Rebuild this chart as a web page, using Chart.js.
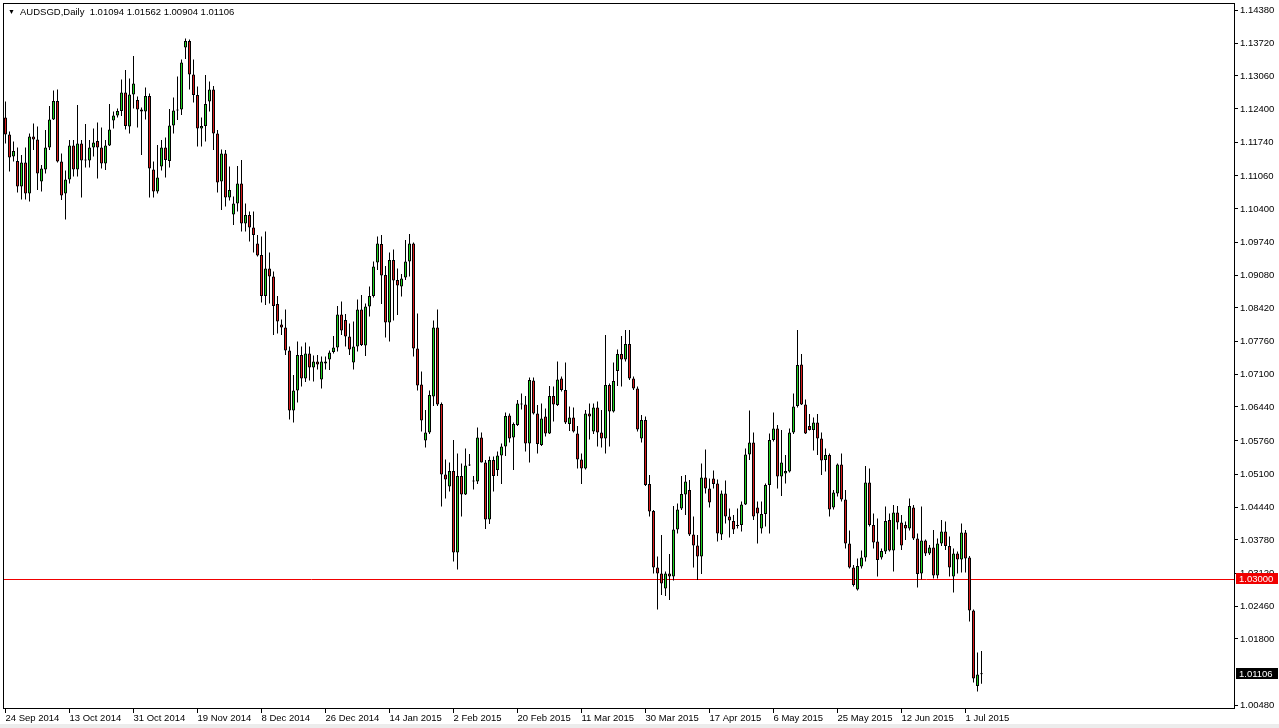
<!DOCTYPE html>
<html>
<head>
<meta charset="utf-8">
<title>AUDSGD Daily</title>
<script src="https://cdn.jsdelivr.net/npm/chart.js@4.4.1/dist/chart.umd.min.js"></script>
<style>
  html, body { margin: 0; padding: 0; background: #fff; }
  #wrap { position: relative; width: 1279px; height: 728px; overflow: hidden; }
  #title { position: absolute; left: 8px; top: 6px; color: #000; white-space: pre;
           font: 9.5px "Liberation Sans", Arial, sans-serif; }
  #title .arrow { display: inline-block; width: 12px; font-size: 7px; vertical-align: 1px; }
  #strip { position: absolute; left: 0; top: 724px; width: 1279px; height: 4px; background: #ececec; }
</style>
</head>
<body>
<div id="wrap">
  <canvas id="chart" width="1279" height="728"></canvas>
  <div id="title"></div>
  <div id="strip"></div>
</div>
<script>
// AUDSGD daily candles, 24 Sep 2014 .. 6 Jul 2015 (MT4 feed, Sunday bars included)
const symbol = "AUDSGD,Daily";

const open = [
  1.1223, 1.1189, 1.1145, 1.1136, 1.1085, 1.1133, 1.1071, 1.1185, 1.1179, 1.1095,
  1.1119, 1.1163, 1.1219, 1.1256, 1.1135, 1.1071, 1.1099, 1.1167, 1.1119, 1.1171,
  1.1139, 1.1137, 1.1163, 1.1176, 1.1163, 1.1131, 1.1167, 1.1217, 1.1227, 1.1236,
  1.1273, 1.1205, 1.1269, 1.1258, 1.1239, 1.1235, 1.1266, 1.1119, 1.1075, 1.1125,
  1.1163, 1.1136, 1.1207, 1.1237, 1.1239, 1.1363, 1.1376, 1.1309, 1.1268, 1.1201,
  1.1206, 1.1255, 1.1279, 1.1191, 1.1095, 1.1151, 1.1063, 1.1029, 1.1051, 1.1091,
  1.1011, 1.1028, 1.1003, 1.0971, 1.0948, 1.0866, 1.0921, 1.0905, 1.0850, 1.0809,
  1.0803, 1.0757, 1.0637, 1.0677, 1.0748, 1.0701, 1.0751, 1.0723, 1.0735, 1.0699,
  1.0735, 1.0739, 1.0754, 1.0763, 1.0829, 1.0818, 1.0785, 1.0733, 1.0765, 1.0839,
  1.0767, 1.0845, 1.0866, 1.0933, 1.0970, 1.0908, 1.0813, 1.0938, 1.0898, 1.0885,
  1.0903, 1.0935, 1.0971, 1.0761, 1.0689, 1.0577, 1.0593, 1.0665, 1.0803, 1.0650,
  1.0509, 1.0485, 1.0516, 1.0353, 1.0506, 1.0469, 1.0527, 1.0497, 1.0495, 1.0583,
  1.0533, 1.0419, 1.0538, 1.0518, 1.0547, 1.0565, 1.0627, 1.0583, 1.0608, 1.0651,
  1.0649, 1.0571, 1.0697, 1.0631, 1.0568, 1.0625, 1.0591, 1.0666, 1.0648, 1.0701,
  1.0678, 1.0610, 1.0623, 1.0591, 1.0539, 1.0521, 1.0631, 1.0595, 1.0643, 1.0593,
  1.0581, 1.0688, 1.0635, 1.0716, 1.0750, 1.0739, 1.0770, 1.0701, 1.0681, 1.0581,
  1.0618, 1.0490, 1.0436, 1.0323, 1.0311, 1.0281, 1.0311, 1.0305, 1.0399, 1.0441,
  1.0469, 1.0478, 1.0389, 1.0367, 1.0345, 1.0503, 1.0481, 1.0501, 1.0491, 1.0389,
  1.0471, 1.0425, 1.0416, 1.0408, 1.0408, 1.0449, 1.0549, 1.0573, 1.0443, 1.0401,
  1.0430, 1.0488, 1.0578, 1.0601, 1.0505, 1.0511, 1.0515, 1.0593, 1.0646, 1.0729,
  1.0649, 1.0606, 1.0598, 1.0613, 1.0581, 1.0538, 1.0548, 1.0443, 1.0471, 1.0529,
  1.0459, 1.0371, 1.0323, 1.0279, 1.0325, 1.0343, 1.0493, 1.0408, 1.0375, 1.0343,
  1.0355, 1.0418, 1.0357, 1.0433, 1.0413, 1.0408, 1.0401, 1.0443, 1.0381, 1.0311,
  1.0377, 1.0351, 1.0363, 1.0307, 1.0371, 1.0395, 1.0366, 1.0305, 1.0351, 1.0339,
  1.0393, 1.0343, 1.0237, 1.0086, 1.01094
];

const high = [
  1.1255, 1.1195, 1.1175, 1.1163, 1.1148, 1.1163, 1.1191, 1.1211, 1.1205, 1.1128,
  1.1198, 1.1246, 1.1277, 1.1279, 1.1151, 1.1117, 1.1178, 1.1178, 1.1248, 1.1178,
  1.1210, 1.1178, 1.1201, 1.1213, 1.1203, 1.1178, 1.1250, 1.1235, 1.1241, 1.1299,
  1.1318, 1.1301, 1.1346, 1.1265, 1.1243, 1.1283, 1.1271, 1.1135, 1.1168, 1.1178,
  1.1183, 1.1240, 1.1263, 1.1305, 1.1339, 1.1381, 1.1379, 1.1339, 1.1285, 1.1223,
  1.1308, 1.1295, 1.1286, 1.1198, 1.1159, 1.1158, 1.1125, 1.1065, 1.1126, 1.1138,
  1.1051, 1.1035, 1.1035, 1.0988, 1.0985, 1.0995, 1.0953, 1.0915, 1.0866, 1.0819,
  1.0839, 1.0765, 1.0708, 1.0775, 1.0765, 1.0773, 1.0765, 1.0747, 1.0748, 1.0745,
  1.0745, 1.0757, 1.0786, 1.0846, 1.0855, 1.0830, 1.0811, 1.0815, 1.0859, 1.0868,
  1.0851, 1.0885, 1.0935, 1.0985, 1.0988, 1.0926, 1.0953, 1.0959, 1.0921, 1.0910,
  1.0978, 1.0990, 1.0973, 1.0831, 1.0715, 1.0638, 1.0677, 1.0817, 1.0839, 1.0653,
  1.0539, 1.0533, 1.0578, 1.0551, 1.0531, 1.0561, 1.0550, 1.0506, 1.0603, 1.0593,
  1.0538, 1.0545, 1.0545, 1.0555, 1.0571, 1.0633, 1.0631, 1.0613, 1.0658, 1.0671,
  1.0666, 1.0703, 1.0703, 1.0648, 1.0651, 1.0641, 1.0686, 1.0685, 1.0735, 1.0705,
  1.0733, 1.0645, 1.0643, 1.0606, 1.0551, 1.0638, 1.0651, 1.0651, 1.0655, 1.0638,
  1.0788, 1.0691, 1.0733, 1.0759, 1.0786, 1.0798, 1.0798, 1.0705, 1.0685, 1.0628,
  1.0625, 1.0508, 1.0438, 1.0345, 1.0388, 1.0315, 1.0350, 1.0446, 1.0451, 1.0506,
  1.0508, 1.0498, 1.0425, 1.0388, 1.0531, 1.0559, 1.0501, 1.0517, 1.0499, 1.0477,
  1.0497, 1.0441, 1.0428, 1.0441, 1.0455, 1.0561, 1.0637, 1.0593, 1.0455, 1.0455,
  1.0491, 1.0591, 1.0633, 1.0608, 1.0598, 1.0548, 1.0601, 1.0671, 1.0798, 1.0750,
  1.0659, 1.0630, 1.0623, 1.0630, 1.0593, 1.0561, 1.0551, 1.0478, 1.0531, 1.0551,
  1.0478, 1.0397, 1.0328, 1.0341, 1.0357, 1.0526, 1.0521, 1.0431, 1.0421, 1.0361,
  1.0445, 1.0431, 1.0448, 1.0446, 1.0428, 1.0415, 1.0461, 1.0448, 1.0391, 1.0445,
  1.0379, 1.0368, 1.0398, 1.0381, 1.0418, 1.0415, 1.0385, 1.0361, 1.0355, 1.0411,
  1.0398, 1.0346, 1.0239, 1.0153, 1.01562
];

const low = [
  1.1171, 1.1115, 1.1135, 1.1073, 1.1059, 1.1059, 1.1055, 1.1158, 1.1078, 1.1075,
  1.1111, 1.1158, 1.1218, 1.1133, 1.1058, 1.1019, 1.1091, 1.1105, 1.1105, 1.1063,
  1.1123, 1.1123, 1.1145, 1.1101, 1.1121, 1.1118, 1.1166, 1.1201, 1.1223, 1.1226,
  1.1199, 1.1191, 1.1241, 1.1203, 1.1148, 1.1219, 1.1063, 1.1063, 1.1071, 1.1117,
  1.1103, 1.1123, 1.1191, 1.1218, 1.1228, 1.1340, 1.1279, 1.1253, 1.1165, 1.1165,
  1.1175, 1.1235, 1.1158, 1.1073, 1.1038, 1.1045, 1.1057, 1.1008, 1.1035, 1.0995,
  1.0995, 1.0975, 1.0953, 1.0945, 1.0853, 1.0848, 1.0851, 1.0788, 1.0791, 1.0788,
  1.0748, 1.0619, 1.0613, 1.0653, 1.0685, 1.0694, 1.0697, 1.0695, 1.0719, 1.0681,
  1.0719, 1.0718, 1.0751, 1.0755, 1.0788, 1.0765, 1.0748, 1.0719, 1.0755, 1.0766,
  1.0746, 1.0825, 1.0863, 1.0918, 1.0850, 1.0783, 1.0775, 1.0817, 1.0828, 1.0865,
  1.0898, 1.0905, 1.0745, 1.0677, 1.0595, 1.0563, 1.0590, 1.0646, 1.0646, 1.0445,
  1.0461, 1.0475, 1.0335, 1.0319, 1.0425, 1.0468, 1.0526, 1.0479, 1.0490, 1.0533,
  1.0400, 1.0410, 1.0475, 1.0506, 1.0490, 1.0546, 1.0573, 1.0518, 1.0606, 1.0639,
  1.0555, 1.0533, 1.0629, 1.0551, 1.0566, 1.0585, 1.0590, 1.0615, 1.0646, 1.0675,
  1.0610, 1.0596, 1.0593, 1.0521, 1.0490, 1.0519, 1.0579, 1.0590, 1.0565, 1.0563,
  1.0551, 1.0565, 1.0633, 1.0686, 1.0685, 1.0735, 1.0698, 1.0678, 1.0595, 1.0573,
  1.0486, 1.0425, 1.0311, 1.0239, 1.0268, 1.0266, 1.0258, 1.0297, 1.0391, 1.0438,
  1.0428, 1.0386, 1.0323, 1.0298, 1.0310, 1.0471, 1.0443, 1.0481, 1.0375, 1.0378,
  1.0411, 1.0383, 1.0390, 1.0401, 1.0395, 1.0448, 1.0538, 1.0418, 1.0371, 1.0391,
  1.0405, 1.0391, 1.0575, 1.0481, 1.0466, 1.0491, 1.0513, 1.0590, 1.0643, 1.0648,
  1.0590, 1.0597, 1.0557, 1.0548, 1.0508, 1.0515, 1.0425, 1.0439, 1.0465, 1.0455,
  1.0361, 1.0321, 1.0285, 1.0277, 1.0321, 1.0335, 1.0405, 1.0361, 1.0305, 1.0339,
  1.0350, 1.0355, 1.0315, 1.0399, 1.0358, 1.0378, 1.0397, 1.0378, 1.0283, 1.0299,
  1.0346, 1.0348, 1.0301, 1.0301, 1.0366, 1.0358, 1.0305, 1.0273, 1.0311, 1.0313,
  1.0313, 1.0215, 1.0093, 1.0075, 1.00904
];

const close = [
  1.1189, 1.1143, 1.1156, 1.1085, 1.1133, 1.1071, 1.1185, 1.1179, 1.1111, 1.1121,
  1.1163, 1.1219, 1.1256, 1.1135, 1.1067, 1.1099, 1.1167, 1.1119, 1.1171, 1.1137,
  1.1137, 1.1163, 1.1173, 1.1163, 1.1131, 1.1167, 1.1199, 1.1227, 1.1236, 1.1273,
  1.1206, 1.1269, 1.1291, 1.1239, 1.1235, 1.1266, 1.1121, 1.1075, 1.1103, 1.1163,
  1.1138, 1.1207, 1.1237, 1.1239, 1.1333, 1.1376, 1.1309, 1.1268, 1.1201, 1.1206,
  1.1250, 1.1279, 1.1191, 1.1093, 1.1151, 1.1063, 1.1078, 1.1051, 1.1091, 1.1011,
  1.1028, 1.1003, 1.0988, 1.0947, 1.0866, 1.0921, 1.0905, 1.0846, 1.0815, 1.0803,
  1.0757, 1.0637, 1.0677, 1.0748, 1.0701, 1.0751, 1.0723, 1.0735, 1.0729, 1.0735,
  1.0731, 1.0753, 1.0763, 1.0829, 1.0797, 1.0785, 1.0759, 1.0765, 1.0839, 1.0768,
  1.0845, 1.0866, 1.0925, 1.0971, 1.0907, 1.0813, 1.0938, 1.0897, 1.0887, 1.0901,
  1.0935, 1.0971, 1.0761, 1.0687, 1.0617, 1.0593, 1.0668, 1.0803, 1.0649, 1.0509,
  1.0499, 1.0516, 1.0353, 1.0506, 1.0469, 1.0527, 1.0529, 1.0495, 1.0583, 1.0533,
  1.0419, 1.0538, 1.0506, 1.0547, 1.0565, 1.0626, 1.0581, 1.0610, 1.0651, 1.0649,
  1.0571, 1.0698, 1.0631, 1.0570, 1.0621, 1.0591, 1.0666, 1.0649, 1.0699, 1.0678,
  1.0613, 1.0623, 1.0595, 1.0539, 1.0521, 1.0631, 1.0625, 1.0643, 1.0593, 1.0581,
  1.0688, 1.0635, 1.0696, 1.0750, 1.0739, 1.0770, 1.0701, 1.0681, 1.0599, 1.0618,
  1.0488, 1.0435, 1.0323, 1.0311, 1.0291, 1.0311, 1.0305, 1.0399, 1.0439, 1.0470,
  1.0495, 1.0389, 1.0367, 1.0345, 1.0503, 1.0481, 1.0453, 1.0490, 1.0391, 1.0471,
  1.0425, 1.0417, 1.0399, 1.0406, 1.0449, 1.0549, 1.0573, 1.0425, 1.0431, 1.0430,
  1.0488, 1.0578, 1.0601, 1.0505, 1.0533, 1.0516, 1.0593, 1.0645, 1.0728, 1.0649,
  1.0591, 1.0598, 1.0613, 1.0581, 1.0537, 1.0548, 1.0439, 1.0473, 1.0529, 1.0459,
  1.0371, 1.0323, 1.0288, 1.0326, 1.0343, 1.0493, 1.0408, 1.0373, 1.0338, 1.0356,
  1.0416, 1.0357, 1.0433, 1.0413, 1.0367, 1.0401, 1.0446, 1.0381, 1.0310, 1.0377,
  1.0351, 1.0363, 1.0307, 1.0371, 1.0395, 1.0366, 1.0323, 1.0351, 1.0339, 1.0393,
  1.0341, 1.0237, 1.0101, 1.0109, 1.01106
];

// date labels on the time axis, one every 16 bars starting at bar 0
const dateTicks = [
  "24 Sep 2014", "13 Oct 2014", "31 Oct 2014", "19 Nov 2014", "8 Dec 2014",
  "26 Dec 2014", "14 Jan 2015", "2 Feb 2015", "20 Feb 2015", "11 Mar 2015",
  "30 Mar 2015", "17 Apr 2015", "6 May 2015", "25 May 2015", "12 Jun 2015", "1 Jul 2015"
];
const barsPerDateTick = 16;

const priceTicks = [
  1.14380, 1.13720, 1.13060, 1.12400, 1.11740, 1.11060, 1.10400, 1.09740,
  1.09080, 1.08420, 1.07760, 1.07100, 1.06440, 1.05760, 1.05100, 1.04440,
  1.03780, 1.03120, 1.02460, 1.01800, 1.00480
];

// horizontal level drawn on the chart
const levelPrice = 1.03;

// ---- styling ----
const FONT = '"Liberation Sans", Arial, sans-serif';
const bullColor = "#1fd21f";
const bearColor = "#d81b1b";
const levelColor = "#f00000";

const last = close.length - 1;
document.getElementById("title").innerHTML =
  '<span class="arrow">\u25BC</span>' + symbol + "  " +
  [open[last], high[last], low[last], close[last]].map((v) => v.toFixed(5)).join(" ");

const bars = open.map((_, i) => i);

function priceTag(ctx, area, yScale, value, bg) {
  const py = Math.round(yScale.getPixelForValue(value));
  ctx.fillStyle = bg;
  ctx.fillRect(area.right + 2, py - 6, 42, 11);
  ctx.fillStyle = "#fff";
  ctx.font = "9.5px " + FONT;
  ctx.textBaseline = "middle";
  ctx.textAlign = "left";
  ctx.fillText(value.toFixed(5), area.right + 5, py);
}

const mt4Overlay = {
  id: "mt4Overlay",
  beforeDatasetsDraw(chart) {
    const { ctx, chartArea: a, scales: { y } } = chart;
    const py = Math.round(y.getPixelForValue(levelPrice)) + 0.5;
    ctx.save();
    ctx.strokeStyle = levelColor;
    ctx.lineWidth = 1;
    ctx.beginPath();
    ctx.moveTo(a.left, py);
    ctx.lineTo(a.right, py);
    ctx.stroke();
    ctx.restore();
  },
  afterDraw(chart) {
    const { ctx, chartArea: a, scales: { y } } = chart;
    ctx.save();
    ctx.strokeStyle = "#000";
    ctx.lineWidth = 1;
    ctx.strokeRect(a.left - 0.5, a.top - 0.5, a.right - a.left + 1, a.bottom - a.top + 1);
    priceTag(ctx, a, y, levelPrice, levelColor);
    priceTag(ctx, a, y, close[last], "#000");
    ctx.restore();
  }
};

new Chart(document.getElementById("chart"), {
  type: "bar",
  data: {
    datasets: [
      {
        label: "range",
        data: bars.map((i) => ({ x: i, y: [low[i], high[i]] })),
        backgroundColor: "#000",
        borderWidth: 0,
        barThickness: 1,
        inflateAmount: 0,
        grouped: false,
        order: 2
      },
      {
        label: "body",
        data: bars.map((i) => ({ x: i, y: [open[i], close[i]] })),
        backgroundColor: bars.map((i) => (close[i] >= open[i] ? bullColor : bearColor)),
        borderColor: "#000",
        borderWidth: 1,
        borderSkipped: false,
        barThickness: 3,
        minBarLength: 1,
        inflateAmount: 0,
        grouped: false,
        order: 1
      }
    ]
  },
  options: {
    responsive: false,
    animation: false,
    layout: { padding: { left: 4, top: 4, right: 0, bottom: 0 } },
    plugins: { legend: { display: false }, tooltip: { enabled: false } },
    scales: {
      x: {
        type: "linear",
        position: "bottom",
        offset: false,
        min: -0.375,
        max: 307.125,
        afterBuildTicks: (s) => { s.ticks = dateTicks.map((_, k) => ({ value: k * barsPerDateTick })); },
        afterFit: (s) => { s.height = 20; s.paddingLeft = 0; s.paddingRight = 0; },
        ticks: {
          autoSkip: false,
          maxRotation: 0,
          align: "start",
          padding: 0,
          color: "#000",
          font: { family: FONT, size: 9.5 },
          callback: (v, idx) => dateTicks[idx]
        },
        grid: { offset: false, drawOnChartArea: false, drawTicks: true, tickLength: 5, color: "#000" },
        border: { display: false }
      },
      y: {
        position: "right",
        min: 1.0042,
        max: 1.1450,
        afterBuildTicks: (s) => { s.ticks = priceTicks.map((v) => ({ value: v })); },
        afterFit: (s) => { s.width = 45; s.paddingTop = 0; s.paddingBottom = 0; },
        ticks: {
          autoSkip: false,
          padding: 2,
          color: "#000",
          font: { family: FONT, size: 9.5 },
          callback: (v) => Number(v).toFixed(5)
        },
        grid: { drawOnChartArea: false, drawTicks: true, tickLength: 4, color: "#000" },
        border: { display: false }
      }
    }
  },
  plugins: [mt4Overlay]
});
</script>
</body>
</html>
